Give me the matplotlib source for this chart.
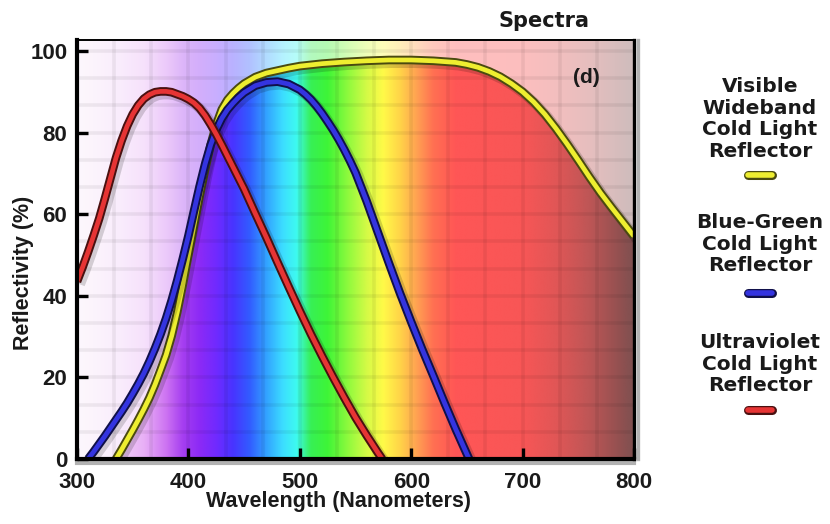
import numpy as np
import matplotlib
matplotlib.use("Agg")
import matplotlib.pyplot as plt
import matplotlib.patheffects as pe
from matplotlib.patches import Polygon
from matplotlib.lines import Line2D

# ---------------- data ----------------
wideband_nm = [335, 340, 345, 350, 355, 360, 365, 370, 375, 380, 385, 390, 395, 400, 405,
               410, 415, 420, 425, 430, 435, 440, 445, 450, 460, 470, 480, 490, 500, 520,
               540, 560, 580, 600, 620, 640, 650, 660, 670, 680, 690, 700, 710, 720, 730,
               740, 750, 760, 770, 780, 790, 800]
wideband_r = [0, 2.3, 4.7, 7.1, 9.6, 12.2, 15, 18.2, 21.8, 25.5, 30.2, 36, 42.8, 50, 57.2,
              64.3, 71, 77, 82, 85.7, 88, 89.6, 90.9, 92, 93.6, 94.6, 95.2, 95.8, 96.3, 96.9,
              97.3, 97.6, 97.8, 97.8, 97.6, 97.2, 96.7, 96.0, 95.0, 93.7, 92.0, 90.0, 87.5, 84.5, 81,
              77.2, 73.2, 69.1, 65.2, 61.6, 58.1, 54.6]

bluegreen_nm = [310, 315, 320, 325, 330, 335, 340, 345, 350, 355, 360, 365, 370, 375, 380,
                385, 390, 395, 400, 405, 410, 415, 420, 425, 430, 435, 440, 445, 450, 460,
                470, 480, 490, 500, 505, 510, 515, 520, 525, 530, 535, 540, 545, 550, 560,
                570, 580, 590, 600, 610, 620, 630, 640, 650, 652]
bluegreen_r = [0, 1.8, 3.7, 5.6, 7.6, 9.6, 11.6, 13.7, 16, 18.4, 21, 23.9, 27.1, 30.6, 34.5,
               38.9, 43.8, 49.1, 54.7, 60.8, 66.8, 72.3, 77, 80.7, 83.5, 85.6, 87.2, 88.6, 89.8, 91.5,
               92.3, 92.5, 91.9, 90.5, 89.4, 88.1, 86.5, 84.7, 82.7, 80.6, 78.3, 75.8, 73.1, 70.2, 63.2,
               55.6, 48.0, 40.6, 33.6, 26.8, 20.3, 13.7, 7.3, 1.2, 0]

uv_nm = [300, 305, 310, 315, 320, 325, 330, 335, 340, 345, 350, 355, 360, 365, 370,
         375, 380, 385, 390, 395, 400, 405, 410, 415, 420, 425, 430, 435, 440, 450,
         460, 470, 480, 490, 500, 510, 520, 530, 540, 550, 560, 570, 574]
uv_r = [43.5, 47, 50.8, 54.8, 59, 63.8, 68.8, 73.8, 78, 81.6, 84.5, 86.7, 88.3, 89.3, 89.9,
        90.1, 90.1, 89.9, 89.4, 88.9, 88.2, 87.3, 86.0, 84.2, 82.0, 79.6, 77.0, 74.3, 71.6, 66.2,
        60.2, 54.3, 48.2, 42.2, 36.3, 30.6, 25.2, 20.0, 15.0, 10.2, 5.8, 1.6, 0]

x_ticks = [300, 400, 500, 600, 700, 800]
y_ticks = [0, 20, 40, 60, 80, 100]

legend_labels = ["Visible\nWideband\nCold Light\nReflector",
                 "Blue-Green\nCold Light\nReflector",
                 "Ultraviolet\nCold Light\nReflector"]

# ---------------- styling ----------------
TICKFONT = "Liberation Sans"
LEGFONT = "DejaVu Sans"

# spectrum colour stops (wavelength, rgb)
stops = [(300, (250, 236, 250)), (320, (246, 222, 249)), (340, (240, 204, 248)),
         (360, (232, 176, 246)), (380, (205, 115, 242)), (395, (165, 62, 240)),
         (410, (140, 42, 246)), (425, (112, 42, 255)), (440, (72, 52, 255)),
         (455, (50, 92, 255)), (470, (50, 162, 255)), (485, (60, 222, 255)),
         (497, (62, 250, 240)), (510, (55, 240, 85)), (525, (62, 245, 55)),
         (545, (150, 250, 62)), (560, (212, 250, 70)), (575, (255, 250, 72)),
         (590, (255, 212, 72)), (605, (255, 162, 82)), (620, (255, 112, 82)),
         (640, (255, 86, 86)), (700, (248, 86, 86)), (730, (225, 86, 86)),
         (760, (190, 86, 86)), (790, (142, 80, 80)), (800, (126, 80, 80))]
sw = np.array([s[0] for s in stops], dtype=float)
sc = np.array([s[1] for s in stops], dtype=float) / 255.0
wl = np.linspace(300, 800, 1001)
row = np.stack([np.interp(wl, sw, sc[:, i]) for i in range(3)], axis=1)
sat_img = np.repeat(row[None, :, :], 20, axis=0)
pale_img = sat_img * 0.38 + 0.62

W, H = 830, 524
fig = plt.figure(figsize=(W / 100, H / 100), dpi=100)
ax_l, ax_r, ax_t, ax_b = 77, 634, 40, 459
ax = fig.add_axes([ax_l / W, 1 - ax_b / H, (ax_r - ax_l) / W, (ax_b - ax_t) / H])
YTOP = 102.7
ax.set_xlim(300, 800)
ax.set_ylim(0, YTOP)

ext = [300, 800, 0, YTOP]
ax.imshow(pale_img, extent=ext, aspect="auto", origin="lower", zorder=0, interpolation="bilinear")
im = ax.imshow(sat_img, extent=ext, aspect="auto", origin="lower", zorder=0.5, interpolation="bilinear")
poly_xy = np.column_stack([wideband_nm + [wideband_nm[-1], wideband_nm[0]],
                           wideband_r + [0, 0]])
clip = Polygon(poly_xy, closed=True, transform=ax.transData, facecolor="none", edgecolor="none")
ax.add_patch(clip)
im.set_clip_path(clip)

# grid (15 x 15 cells)
for gx in np.linspace(300, 800, 16)[1:-1]:
    ax.axvline(gx, color="black", alpha=0.06, lw=2.6, zorder=1)
for gy in np.linspace(0, 100, 16)[1:]:
    ax.axhline(gy, color="black", alpha=0.06, lw=2.6, zorder=1)

def styled(dark):
    return [pe.SimpleLineShadow(offset=(2, -2), shadow_color="black", alpha=0.16, linewidth=7.5),
            pe.Stroke(linewidth=6.2, foreground=dark), pe.Normal()]

series = [(wideband_nm, wideband_r, "#EEEE30", "#4A4A10"),
          (bluegreen_nm, bluegreen_r, "#3434E0", "#10104A"),
          (uv_nm, uv_r, "#E63434", "#4A1010")]
for k, (xs, ys, col, dark) in enumerate(series):
    ln, = ax.plot(xs, ys, color=col, lw=3.4, solid_capstyle="butt", solid_joinstyle="round",
                  zorder=3 + k)
    ln.set_path_effects(styled(dark))

ax.text(757, 93.4, "(d)", fontsize=15, fontweight="bold", family=TICKFONT,
        ha="center", va="center", color="#1a1a1a", zorder=6)

# frame
for side, lw in [("left", 3.0), ("bottom", 3.0), ("top", 1.4), ("right", 2.4)]:
    ax.spines[side].set_linewidth(lw)
    ax.spines[side].set_color("black")
    ax.spines[side].set_zorder(8)
ax.spines["bottom"].set_path_effects([pe.SimpleLineShadow(offset=(0, -3), alpha=0.3), pe.Normal()])
ax.spines["right"].set_path_effects([pe.SimpleLineShadow(offset=(3, 0), alpha=0.3), pe.Normal()])

ax.set_xticks(x_ticks)
ax.set_yticks(y_ticks)
ax.tick_params(direction="in", length=8, width=2.4, color="black")
ax.tick_params(axis="x", pad=9)
ax.tick_params(axis="y", pad=7)
for lab in ax.get_xticklabels() + ax.get_yticklabels():
    lab.set_fontsize(16)
    lab.set_fontweight("bold")
    lab.set_family(TICKFONT)
    lab.set_color("#1a1a1a")

fig.text(338 / W, 1 - 502 / H, "Wavelength (Nanometers)", fontsize=15.5, fontweight="bold",
         family=TICKFONT, ha="center", va="center", color="#1a1a1a")
fig.text(24 / W, 1 - 273 / H, "Reflectivity (%)", fontsize=15.5, fontweight="bold",
         family=TICKFONT, ha="center", va="center", rotation=90, color="#1a1a1a")
fig.text(544 / W, 1 - 21 / H, "Spectra", fontsize=15, fontweight="bold",
         family=LEGFONT, ha="center", va="center", color="#1a1a1a")

# legend (custom, right side)
leg_text_y = [119, 244, 364]
leg_bar_y = [175, 293, 410]
leg_colors = [("#EEEE30", "#4A4A10"), ("#3434E0", "#10104A"), ("#E63434", "#4A1010")]
for lab, ty, by, (col, dark) in zip(legend_labels, leg_text_y, leg_bar_y, leg_colors):
    fig.text(760 / W, 1 - ty / H, lab, fontsize=14.5, fontweight="bold", family=LEGFONT,
             ha="center", va="center", multialignment="center", linespacing=1.17,
             color="#1a1a1a")
    bar = Line2D([748 / W, 772 / W], [1 - by / H, 1 - by / H], transform=fig.transFigure,
                 color=col, lw=4.0, solid_capstyle="round")
    bar.set_path_effects([pe.Stroke(linewidth=6.5, foreground=dark, capstyle="round"), pe.Normal()])
    fig.add_artist(bar)

fig.savefig("out.png", dpi=100)
